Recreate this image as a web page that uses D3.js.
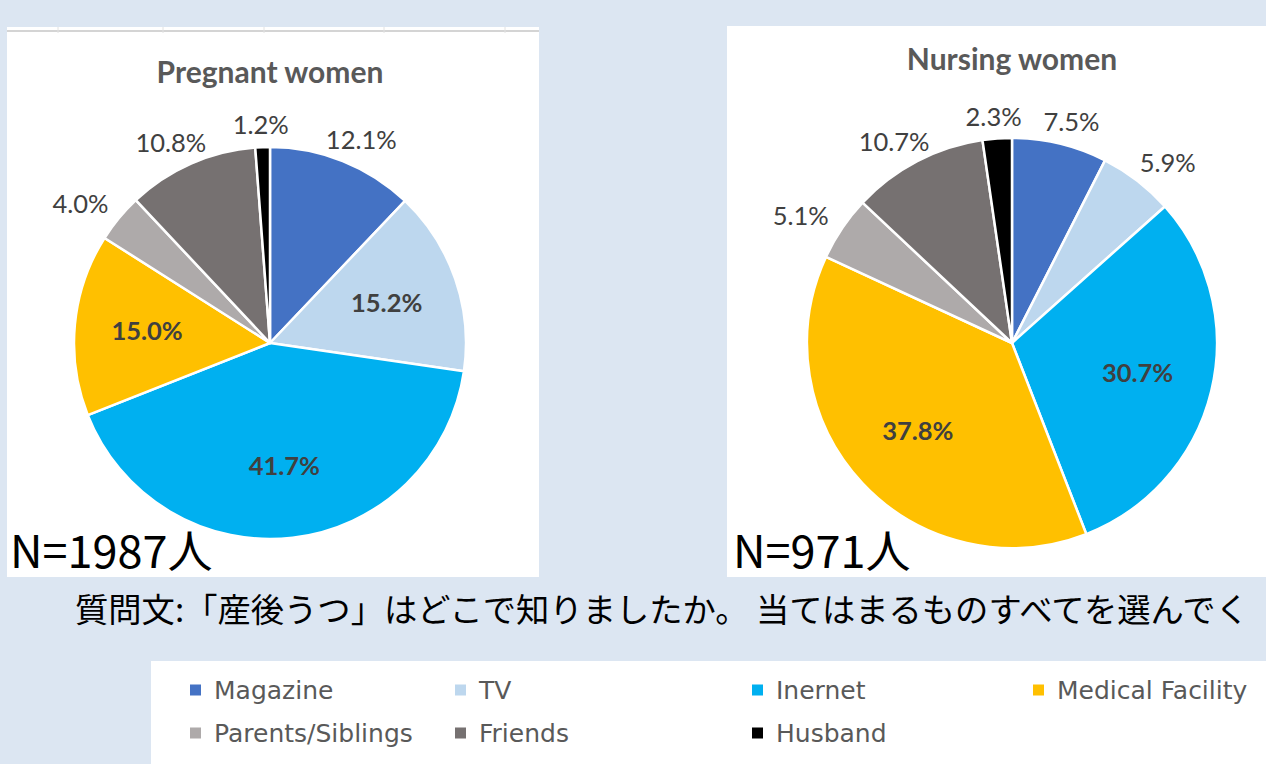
<!DOCTYPE html>
<html>
<head>
<meta charset="utf-8">
<script src="https://cdn.jsdelivr.net/npm/d3@7"></script>
<style>
  body { margin: 0; background: #dce6f2; overflow: hidden; }
  svg { display: block; }
</style>
</head>
<body>
<div id="chart"></div>
<script>
// source categories and colours
const categories = ['Magazine', 'TV', 'Inernet', 'Medical Facility', 'Parents/Siblings', 'Friends', 'Husband'];
const colors = ['#4472c4', '#bdd7ee', '#00b0f0', '#ffc000', '#aeaaaa', '#767171', '#000000'];

// share of respondents (%)
const pregnantValues = [12.1, 15.2, 41.7, 15.0, 4.0, 10.8, 1.2];
const nursingValues = [7.5, 5.9, 30.7, 37.8, 5.1, 10.7, 2.3];

// labels drawn inside the slice (bold) instead of outside
const pregnantInside = ['TV', 'Inernet', 'Medical Facility'];
const nursingInside = ['Inernet', 'Medical Facility'];

const width = 1266;
const height = 764;

const svg = d3.select('#chart').append('svg')
    .attr('width', width)
    .attr('height', height);

svg.append('rect')
    .attr('width', width)
    .attr('height', height)
    .attr('fill', '#dce6f2');

// white chart panels
svg.append('rect').attr('x', 7).attr('y', 27).attr('width', 532).attr('height', 550).attr('fill', '#fff');
svg.append('rect').attr('x', 727).attr('y', 26).attr('width', 539).attr('height', 551).attr('fill', '#fff');
svg.append('rect').attr('x', 151).attr('y', 661).attr('width', 1115).attr('height', 103).attr('fill', '#fff');

// faint spreadsheet grid line at the top of the left panel
svg.append('line')
    .attr('x1', 7).attr('x2', 539).attr('y1', 31).attr('y2', 31)
    .attr('stroke', '#d4d4d4').attr('stroke-width', 2);
[58, 163, 264, 384, 505].forEach(x => {
    svg.append('line')
        .attr('x1', x).attr('x2', x).attr('y1', 27).attr('y2', 33)
        .attr('stroke', '#e2e2e2');
});

function drawPie(values, inside, cx, cy, r, title, titleY, nText) {
    const data = categories.map((c, i) => ({ name: c, value: values[i], color: colors[i] }));
    const pie = d3.pie().sort(null).value(d => d.value);
    const arcs = pie(data);
    const arc = d3.arc().innerRadius(0).outerRadius(r);
    const inner = d3.arc().innerRadius(r * 0.63).outerRadius(r * 0.63);

    const g = svg.append('g').attr('transform', 'translate(' + cx + ',' + cy + ')');

    g.selectAll('path')
        .data(arcs)
        .enter().append('path')
        .attr('d', arc)
        .attr('fill', d => d.data.color)
        .attr('stroke', '#fff')
        .attr('stroke-width', 2.5)
        .attr('stroke-linejoin', 'round');

    g.selectAll('text.lbl')
        .data(arcs)
        .enter().append('text')
        .attr('class', 'lbl')
        .attr('transform', d => {
            const mid = (d.startAngle + d.endAngle) / 2;
            if (inside.includes(d.data.name)) {
                return 'translate(' + inner.centroid(d) + ')';
            }
            const rr = r + 22;
            const x = Math.sin(mid) * rr + Math.sin(mid) * 28;
            const y = -Math.cos(mid) * rr;
            return 'translate(' + x + ',' + y + ')';
        })
        .attr('text-anchor', 'middle')
        .attr('dy', '0.35em')
        .style('font-family', 'Lato, "Open Sans", sans-serif')
        .style('font-size', '25.5px')
        .style('font-weight', d => inside.includes(d.data.name) ? 'bold' : 'normal')
        .style('fill', '#404040')
        .text(d => d.data.value.toFixed(1) + '%');

    svg.append('text')
        .attr('x', cx)
        .attr('y', titleY)
        .attr('text-anchor', 'middle')
        .style('font-family', 'Lato, "Open Sans", sans-serif')
        .style('font-size', '30px')
        .style('font-weight', 'bold')
        .style('fill', '#595959')
        .text(title);

    svg.append('text')
        .attr('x', nText.x)
        .attr('y', 568)
        .style('font-family', '"Noto Sans CJK JP", sans-serif')
        .style('font-size', '45px')
        .style('fill', '#000')
        .text(nText.label);
}

drawPie(pregnantValues, pregnantInside, 270, 343, 196, 'Pregnant women', 83, { x: 10, label: 'N=1987人' });
drawPie(nursingValues, nursingInside, 1012, 343, 205, 'Nursing women', 70, { x: 733, label: 'N=971人' });

// question line, as much of it as shows in the picture
svg.append('text')
    .attr('x', 75)
    .attr('y', 622)
    .style('font-family', '"Noto Sans CJK JP", sans-serif')
    .style('font-size', '33.3px')
    .style('fill', '#000')
    .text('質問文:「産後うつ」はどこで知りましたか。 当てはまるものすべてを選んでく');

// legend
const legendX = [190, 455, 752, 1033];
const legendRows = [[0, 1, 2, 3], [4, 5, 6]];
legendRows.forEach((row, ri) => {
    row.forEach((ci, k) => {
        const lg = svg.append('g')
            .attr('transform', 'translate(' + legendX[k] + ',' + (690 + ri * 43) + ')');
        lg.append('rect')
            .attr('x', 0).attr('y', -5.5)
            .attr('width', 11).attr('height', 11)
            .attr('fill', colors[ci]);
        lg.append('text')
            .attr('x', 24)
            .attr('dy', '0.35em')
            .style('font-family', '"DejaVu Sans", Verdana, sans-serif')
            .style('font-size', '25px')
            .style('fill', '#595959')
            .text(categories[ci]);
    });
});
</script>
</body>
</html>
